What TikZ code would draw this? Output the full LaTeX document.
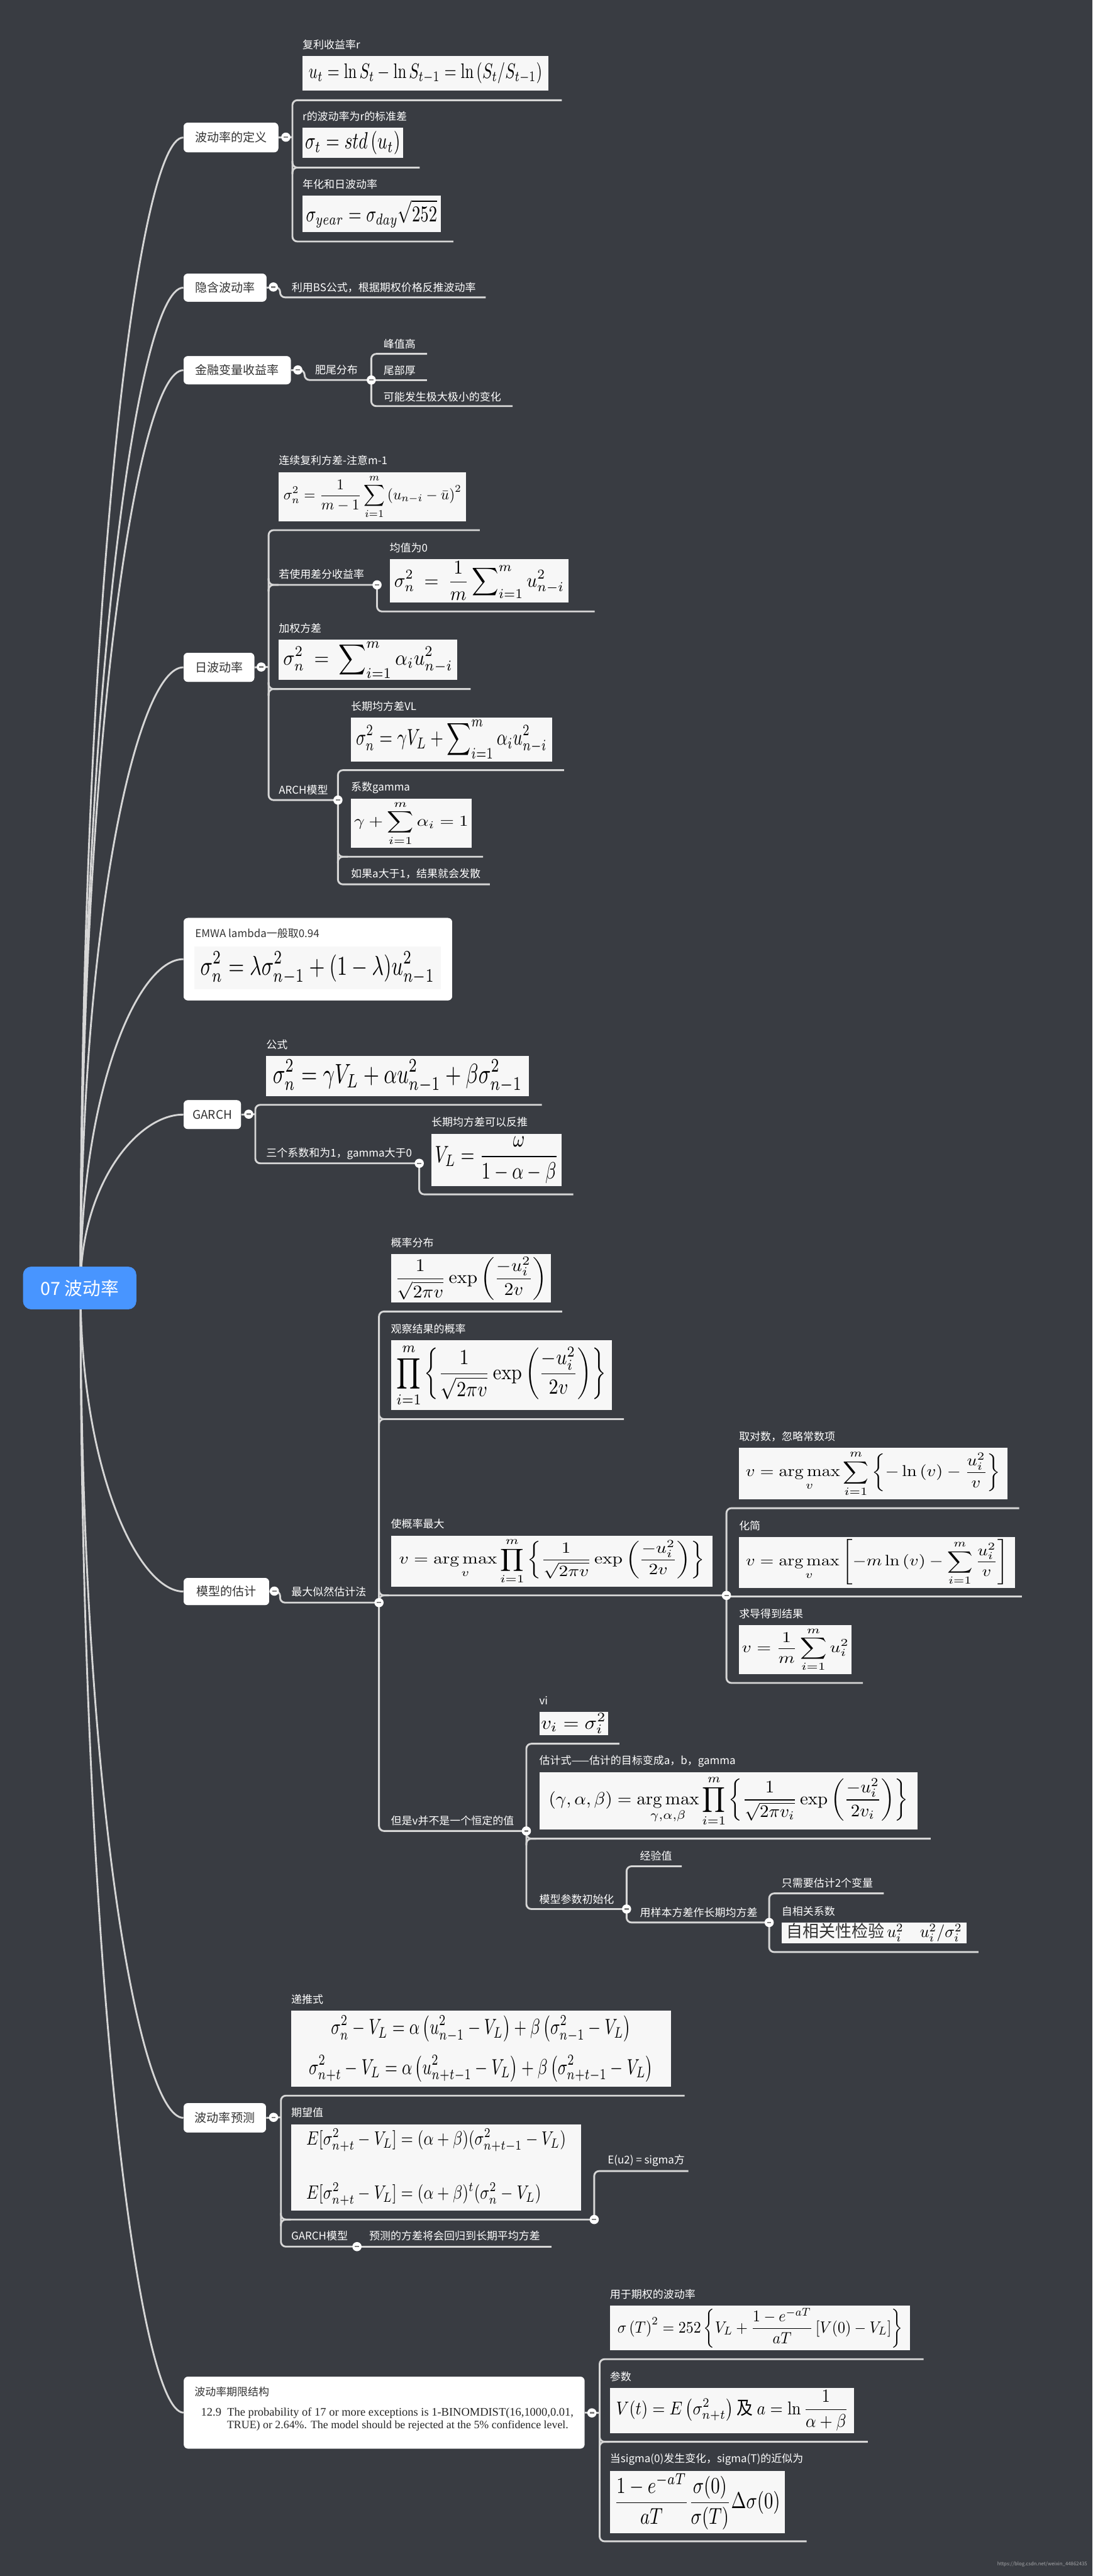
\documentclass[tikz,border=0pt]{standalone}
\usepackage[no-math]{fontspec}
\setmainfont{Noto Sans CJK SC}
\newfontfamily\tnr{Liberation Serif}
\usepackage{amsmath}
\usepackage{graphicx}
\usetikzlibrary{calc}
\definecolor{bgc}{RGB}{57,60,66}
\definecolor{linec}{RGB}{214,214,214}
\definecolor{rootc}{RGB}{72,149,255}
\definecolor{topictext}{RGB}{51,51,51}
\definecolor{fbg}{RGB}{247,247,247}
\newsavebox\fmlbox
\newdimen\fmlw
\newdimen\fmlh
\newcommand\myfit[3]{\sbox\fmlbox{#3}\fmlw=\wd\fmlbox\fmlh=\ht\fmlbox\advance\fmlh by \dp\fmlbox
\pgfmathsetmacro\fsa{(#1)/\fmlw}\pgfmathsetmacro\fsb{(#2)/\fmlh}%
\pgfmathsetmacro\fsx{min(\fsa,1.35*\fsb)}\pgfmathsetmacro\fsy{min(\fsb,1.35*\fsa)}%
\scalebox{\fsx}[\fsy]{\usebox\fmlbox}}
\newcommand\fnode[6]{\node[fml,minimum width=#4pt,minimum height=#5pt] (#1) at (#2,#3) {\myfit{0.95*#4}{0.9*#5}{#6}};}
\newcommand\midln[3]{\draw[ln] (#1,#2-4) -- (#1,#2) -- (#3,#2); \draw[ln] (#1,#2+4) -- (#1,#2) -- (#1+6,#2);}
\newcommand\coll[3]{\node[collnode] (#1) at (#2,#3) {}; \draw[gray,line width=0.9pt] ([xshift=-1.3pt]#1.center) -- ([xshift=1.3pt]#1.center);}
\tikzset{
 ln/.style={draw=linec, line width=1.1pt, rounded corners=3pt},
 topic/.style={fill=white, rounded corners=2.5pt, text=topictext, font=\fontsize{7.3}{8.5}\selectfont, inner sep=0pt, anchor=north west},
 lbl/.style={text=white, font=\fontsize{6.5}{7.5}\selectfont, inner sep=0pt, anchor=west},
 dlbl/.style={lbl, text=topictext},
 fml/.style={fill=fbg, inner sep=0pt, anchor=north west, text=black},
 collnode/.style={circle, fill=white, minimum size=5.6pt, inner sep=0pt},
}
\begin{document}
\begin{tikzpicture}[x=1pt,y=-1pt]
\fill[bgc] (0,0) rectangle (665,1568);
\useasboundingbox (0,0) rectangle (665,1568);
% ---------- topic boxes (named, for the connectors) ----------
\node[topic,minimum width=57.6pt,minimum height=18pt] (t1) at (111.6,74.5) {波动率的定义};
\node[topic,minimum width=50.4pt,minimum height=17pt] (t2) at (111.6,166.4) {隐含波动率};
\node[topic,minimum width=65.2pt,minimum height=17.1pt] (t3) at (111.6,216.6) {金融变量收益率};
\node[topic,minimum width=43pt,minimum height=17.6pt] (t4) at (111.6,397.2) {日波动率};
\node[topic,minimum width=163.4pt,minimum height=50.1pt] (t5) at (111.6,558.6) {};
\node[topic,minimum width=34.9pt,minimum height=17.5pt] (t6) at (111.6,669.5) {GARCH};
\node[topic,minimum width=52pt,minimum height=16.5pt] (t7) at (111.6,960.3) {模型的估计};
\node[topic,minimum width=50.1pt,minimum height=17.8pt] (t8) at (111.6,1280) {波动率预测};
\node[topic,minimum width=243.9pt,minimum height=43.7pt] (t9) at (111.7,1446.5) {};
% ---------- root curves ----------
\coordinate (rc) at (49,784);
\draw[ln] (rc) .. controls (49,363.7) and (84,83.5) .. (t1.west);
\draw[ln] (rc) .. controls (49,418.5) and (84,174.9) .. (t2.west);
\draw[ln] (rc) .. controls (49,448.7) and (84,225.2) .. (t3.west);
\draw[ln] (rc) .. controls (49,557.2) and (84,406) .. (t4.west);
\draw[ln] (rc) .. controls (49,663.8) and (84,583.6) .. (t5.west);
\draw[ln] (rc) .. controls (49,720.5) and (84,678.2) .. (t6.west);
\draw[ln] (rc) .. controls (49,894.7) and (84,968.5) .. (t7.west);
\draw[ln] (rc) .. controls (49,1087) and (84,1289) .. (t8.west);
\draw[ln] (rc) .. controls (49,1194.6) and (84,1468.3) .. (t9.west);
% redraw boxes over curves
\node[topic,minimum width=57.6pt,minimum height=18pt] at (111.6,74.5) {波动率的定义};
\node[topic,minimum width=50.4pt,minimum height=17pt] at (111.6,166.4) {隐含波动率};
\node[topic,minimum width=65.2pt,minimum height=17.1pt] at (111.6,216.6) {金融变量收益率};
\node[topic,minimum width=43pt,minimum height=17.6pt] at (111.6,397.2) {日波动率};
\node[topic,minimum width=163.4pt,minimum height=50.1pt] at (111.6,558.6) {};
\node[topic,minimum width=34.9pt,minimum height=17.5pt] at (111.6,669.5) {GARCH};
\node[topic,minimum width=52pt,minimum height=16.5pt] at (111.6,960.3) {模型的估计};
\node[topic,minimum width=50.1pt,minimum height=17.8pt] at (111.6,1280) {波动率预测};
\node[topic,minimum width=243.9pt,minimum height=43.7pt] at (111.7,1446.5) {};
% ---------- root ----------
\node[fill=rootc, rounded corners=5pt, minimum width=69pt, minimum height=26pt, inner sep=0pt, text=white, font=\fontsize{11}{13}\selectfont] (root) at (48.5,784) {07 波动率};
% ---------- T1 ----------
\draw[ln] (t1.east) -- (178,83.5);
\draw[ln] (342,61) -- (178,61) -- (178,147) -- (276,147);
\midln{178}{102}{255.5}
% ---------- T2 ----------
\draw[ln] (t2.east) -- (170.5,174.7) -- (170.5,181) -- (295.7,181);
% ---------- T3 ----------
\draw[ln] (t3.east) -- (185.4,225.2) -- (185.4,231.3) -- (226,231.3);
\draw[ln] (260,215.4) -- (226,215.4) -- (226,247.2) -- (312,247.2);
\draw[ln] (226,231.3) -- (260,231.3);
% ---------- T4 ----------
\draw[ln] (t4.east) -- (163.5,406);
\draw[ln] (292,322.7) -- (163.5,322.7) -- (163.5,487) -- (205.7,487);
\midln{163.5}{356}{229.5}
\midln{163.5}{419.4}{286.5}
\draw[ln] (229.5,356) -- (229.5,372.2) -- (362,372.2);
\draw[ln] (343.3,468.8) -- (205.7,468.8) -- (205.7,538.3) -- (298.2,538.3);
\midln{205.7}{521.5}{294}
% ---------- T6 ----------
\draw[ln] (t6.east) -- (155.4,678.2);
\draw[ln] (329.8,672.5) -- (155.4,672.5) -- (155.4,708.1) -- (255.2,708.1);
\draw[ln] (255.2,708.1) -- (255.2,727) -- (349,727);
% ---------- T7 ----------
\draw[ln] (t7.east) -- (170.5,968.5) -- (170.5,975.5) -- (230.7,975.5);
\draw[ln] (342.2,798.3) -- (230.7,798.3) -- (230.7,1114.5) -- (320.4,1114.5);
\midln{230.7}{863.8}{379.8}
\midln{230.7}{971.1}{442.2}
\draw[ln] (620.4,918) -- (442.2,918) -- (442.2,1024.4) -- (525.3,1024.4);
\draw[ln] (442.2,971.7) -- (622,971.7);
\draw[ln] (377,1061.4) -- (320.4,1061.4) -- (320.4,1162) -- (381.4,1162);
\midln{320.4}{1119.2}{566.5}
\draw[ln] (415,1136) -- (381.4,1136) -- (381.4,1170.2) -- (468.2,1170.2);
\draw[ln] (538,1152.5) -- (468.2,1152.5) -- (468.2,1188.2) -- (595.6,1188.2);
% ---------- T8 ----------
\draw[ln] (t8.east) -- (171,1288.8);
\draw[ln] (416.7,1275.6) -- (171,1275.6) -- (171,1367.5) -- (217.3,1367.5);
\midln{171}{1351}{361.7}
\draw[ln] (361.7,1351) -- (361.7,1321.5) -- (419,1321.5);
\draw[ln] (217.3,1367.5) -- (335.7,1367.5);
% ---------- T9 ----------
\draw[ln] (t9.east) -- (365,1468.7);
\draw[ln] (562.2,1436) -- (365,1436) -- (365,1546.9) -- (491,1546.9);
\midln{365}{1486.3}{528.2}
% ---------- collapse circles ----------
\coll{cc1}{174}{83.5}
\coll{cc2}{166.4}{174.7}
\coll{cc3}{181.3}{225.2}
\coll{cc4}{159}{406}
\coll{cc6}{151.4}{678.2}
\coll{cc7}{167}{968.5}
\coll{cc8}{166.5}{1288.8}
\coll{cc9}{360.3}{1468.7}
\coll{sfat}{226}{231.3}
\coll{sdiff}{229.5}{356}
\coll{sarch}{205.7}{487}
\coll{sthree}{255.2}{708.1}
\coll{smle}{230.7}{975.5}
\coll{smax}{442.2}{971.1}
\coll{snc}{320.4}{1114.5}
\coll{sinit}{381.4}{1162}
\coll{ssample}{468.2}{1170.2}
\coll{sexp}{361.7}{1351}
\coll{sgm}{217.3}{1367.5}
% ---------- labels ----------
\node[lbl] (l1) at (184,27.2) {复利收益率r};
\node[lbl] (l2) at (184,71) {r的波动率为r的标准差};
\node[lbl] (l3) at (184,112) {年化和日波动率};
\node[lbl] (l4) at (177.4,175) {利用BS公式，根据期权价格反推波动率};
\node[lbl] (l5) at (191.6,225) {肥尾分布};
\node[lbl] (l6) at (233.3,209.4) {峰值高};
\node[lbl] (l7) at (233.3,225.6) {尾部厚};
\node[lbl] (l8) at (233.3,241.4) {可能发生极大极小的变化};
\node[lbl] (l9) at (169.5,280.3) {连续复利方差-注意m-1};
\node[lbl] (l10) at (169.5,349.5) {若使用差分收益率};
\node[lbl] (l11) at (237,333.5) {均值为0};
\node[lbl] (l12) at (169.5,382.5) {加权方差};
\node[lbl] (l13) at (213.5,429.9) {长期均方差VL};
\node[lbl] (l14) at (169.5,480.8) {ARCH模型};
\node[lbl] (l15) at (213.5,479.4) {系数gamma};
\node[lbl] (l16) at (213.5,531.7) {如果a大于1，结果就会发散};
\node[dlbl] (l5e) at (118.6,568) {EMWA lambda一般取0.94};
\node[lbl] (l17) at (161.9,636) {公式};
\node[lbl] (l18) at (161.9,702.4) {三个系数和为1，gamma大于0};
\node[lbl] (l19) at (262.5,683) {长期均方差可以反推};
\node[lbl] (l20) at (177.2,969) {最大似然估计法};
\node[lbl] (l21) at (237.8,756.4) {概率分布};
\node[lbl] (l22) at (237.8,808.9) {观察结果的概率};
\node[lbl] (l23) at (237.8,927.5) {使概率最大};
\node[lbl] (l24) at (449.7,874.4) {取对数，忽略常数项};
\node[lbl] (l25) at (449.7,928.8) {化简};
\node[lbl] (l26) at (449.7,982.3) {求导得到结果};
\node[lbl] (l27) at (237.8,1108.2) {但是v并不是一个恒定的值};
\node[lbl] (l28) at (328.1,1035) {vi};
\node[lbl] (l29) at (328.1,1072) {估计式——估计的目标变成a，b，gamma};
\node[lbl] (l30) at (328.1,1156) {模型参数初始化};
\node[lbl] (l31) at (389.4,1129.8) {经验值};
\node[lbl] (l32) at (389.4,1164) {用样本方差作长期均方差};
\node[lbl] (l33) at (475.6,1146.3) {只需要估计2个变量};
\node[lbl] (l34) at (475.6,1163.2) {自相关系数};
\node[lbl] (l35) at (177.1,1216.8) {递推式};
\node[lbl] (l36) at (177.1,1286) {期望值};
\node[lbl] (l37) at (369.7,1315.3) {E(u2) = sigma方};
\node[lbl] (l38) at (177.1,1361) {GARCH模型};
\node[lbl] (l39) at (224.6,1361) {预测的方差将会回归到长期平均方差};
\node[dlbl] (l9e) at (118.2,1455.9) {波动率期限结构};
\node[lbl] (l40) at (371.1,1396.5) {用于期权的波动率};
\node[lbl] (l41) at (371.1,1446.7) {参数};
\node[lbl] (l42) at (371.1,1496.9) {当sigma(0)发生变化，sigma(T)的近似为};
\node[anchor=west,inner sep=0pt,text=black!85] (q1) at (122.2,1468.7) {\resizebox{226.7pt}{!}{\tnr 12.9\ \ The probability of 17 or more exceptions is 1-BINOMDIST(16,1000,0.01,}};
\node[anchor=west,inner sep=0pt,text=black!85] (q2) at (138,1476.7) {\resizebox{207.8pt}{!}{\tnr TRUE) or 2.64\%. The model should be rejected at the 5\% confidence level.}};
% ---------- formulas ----------
\fnode{f1}{184}{33.8}{149.6}{21.2}{$\displaystyle u_t=\ln S_t-\ln S_{t-1}=\ln\left(S_t/S_{t-1}\right)$}
\fnode{f2}{184}{77.7}{61}{18.3}{$\displaystyle \sigma_t=std\left(u_t\right)$}
\fnode{f3}{184}{119}{84}{22}{$\displaystyle \sigma_{year}=\sigma_{day}\sqrt{252}$}
\fnode{f4}{169.5}{287.3}{114.1}{29.7}{$\displaystyle \sigma_n^2=\frac{1}{m-1}\sum_{i=1}^{m}\left(u_{n-i}-\bar{u}\right)^2$}
\fnode{f5}{237}{340}{109}{26.5}{$\displaystyle \sigma_n^2\ =\ \frac{1}{m}\sum\nolimits_{i=1}^{m}u_{n-i}^2$}
\fnode{f6}{169.5}{389.2}{108.5}{24.5}{$\displaystyle \sigma_n^2\ =\ \sum\nolimits_{i=1}^{m}\alpha_i u_{n-i}^2$}
\fnode{f7}{213.5}{436.5}{122.3}{26.8}{$\displaystyle \sigma_n^2=\gamma V_L+\sum\nolimits_{i=1}^{m}\alpha_i u_{n-i}^2$}
\fnode{f8}{213.5}{486}{73.3}{30}{$\displaystyle \gamma+\sum_{i=1}^{m}\alpha_i=1$}
\fnode{f9}{118}{576}{150.2}{26}{$\displaystyle \sigma_n^2=\lambda\sigma_{n-1}^2+(1-\lambda)u_{n-1}^2$}
\fnode{f10}{161.9}{642.6}{159.8}{24.4}{$\displaystyle \sigma_n^2=\gamma V_L+\alpha u_{n-1}^2+\beta\sigma_{n-1}^2$}
\fnode{f11}{262.5}{689.9}{79.2}{31.8}{$\displaystyle V_L=\frac{\omega}{1-\alpha-\beta}$}
\fnode{f12}{237.8}{763.3}{97.2}{29.4}{$\displaystyle \frac{1}{\sqrt{2\pi v}}\exp\left(\frac{-u_i^2}{2v}\right)$}
\fnode{f13}{237.8}{815.6}{134.3}{42.6}{$\displaystyle \prod_{i=1}^{m}\left\{\frac{1}{\sqrt{2\pi v}}\exp\left(\frac{-u_i^2}{2v}\right)\right\}$}
\fnode{f14}{237.8}{934.5}{195.9}{31}{$\displaystyle v=\operatorname*{arg\,max}_{v}\prod_{i=1}^{m}\left\{\frac{1}{\sqrt{2\pi v}}\exp\left(\frac{-u_i^2}{2v}\right)\right\}$}
\fnode{f15}{449.7}{881.2}{163.3}{31.2}{$\displaystyle v=\operatorname*{arg\,max}_{v}\sum_{i=1}^{m}\left\{-\ln\left(v\right)-\frac{u_i^2}{v}\right\}$}
\fnode{f16}{449.7}{935.3}{168}{31}{$\displaystyle v=\operatorname*{arg\,max}_{v}\left[-m\ln\left(v\right)-\sum_{i=1}^{m}\frac{u_i^2}{v}\right]$}
\fnode{f17}{449.7}{989}{68.5}{29.9}{$\displaystyle v=\frac{1}{m}\sum_{i=1}^{m}u_i^2$}
\fnode{f18}{328.1}{1041.7}{41.7}{14.1}{$\displaystyle v_i=\sigma_i^2$}
\fnode{f19}{328.1}{1078.7}{230.4}{34.8}{$\displaystyle \left(\gamma,\alpha,\beta\right)=\operatorname*{arg\,max}_{\gamma,\alpha,\beta}\prod_{i=1}^{m}\left\{\frac{1}{\sqrt{2\pi v_i}}\exp\left(\frac{-u_i^2}{2v_i}\right)\right\}$}
\fnode{f20}{475.6}{1169.9}{112.6}{12.6}{{\color{topictext}自相关性检验}\,$u_i^2\quad u_i^2/\sigma_i^2$}
\fnode{f21}{177.1}{1223.8}{231}{46.2}{$\displaystyle\begin{array}{c}\displaystyle\sigma_n^2-V_L=\alpha\left(u_{n-1}^2-V_L\right)+\beta\left(\sigma_{n-1}^2-V_L\right)\\[6pt]\displaystyle\sigma_{n+t}^2-V_L=\alpha\left(u_{n+t-1}^2-V_L\right)+\beta\left(\sigma_{n+t-1}^2-V_L\right)\end{array}$}
\fnode{f22}{177.1}{1292.8}{176.4}{52.5}{$\displaystyle\begin{array}{l}\displaystyle E[\sigma_{n+t}^2-V_L]=(\alpha+\beta)(\sigma_{n+t-1}^2-V_L)\\[16pt]\displaystyle E[\sigma_{n+t}^2-V_L]=(\alpha+\beta)^t(\sigma_n^2-V_L)\end{array}$}
\fnode{f23}{371.1}{1403.3}{182.8}{27.1}{$\displaystyle \sigma\left(T\right)^2=252\left\{V_L+\frac{1-e^{-aT}}{aT}\left[V(0)-V_L\right]\right\}$}
\fnode{f24}{371.1}{1453.2}{148.7}{27.6}{$\displaystyle V(t)=E\left(\sigma_{n+t}^2\right)$\ 及\ $\displaystyle a=\ln\frac{1}{\alpha+\beta}$}
\fnode{f25}{371.1}{1503.7}{106.3}{37.9}{$\displaystyle \frac{1-e^{-aT}}{aT}\frac{\sigma(0)}{\sigma(T)}\Delta\sigma(0)$}
% ---------- watermark ----------
\node[anchor=east,inner sep=0pt,text=white!55!bgc,font=\fontsize{3}{3.5}\selectfont] (wm) at (662,1561) {https://blog.csdn.net/weixin\_44862435};
\end{tikzpicture}
\end{document}
